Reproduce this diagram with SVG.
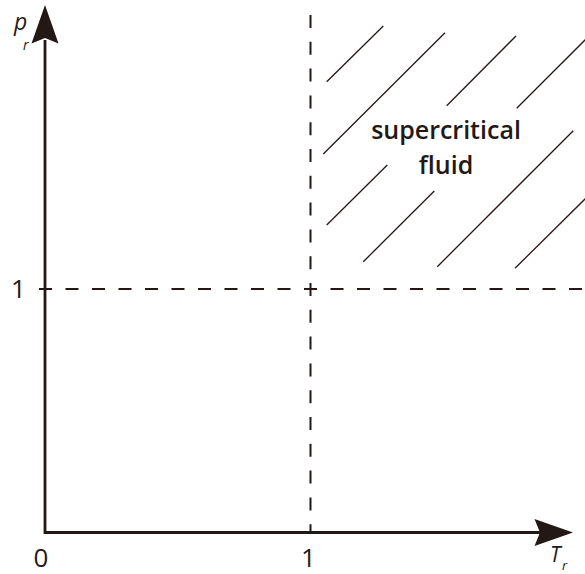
<svg xmlns="http://www.w3.org/2000/svg" width="585" height="574" viewBox="0 0 585 574">
<style>
.axis{stroke:#231815;stroke-width:2.8;fill:none}
.dash{stroke:#231815;stroke-width:2;fill:none}
.hatch{stroke:#231815;stroke-width:1.3;fill:none}
.lbl{font-family:"Open Sans","Liberation Sans",sans-serif;fill:#231815}
.it{font-family:"Open Sans","Liberation Sans",sans-serif;font-style:italic;fill:#231815}
.head{fill:#231815}
</style>
<rect width="585" height="574" fill="#ffffff"/>
<g id="dashed-lines">
<line class="dash" x1="310.5" y1="15" x2="310.5" y2="532" stroke-dasharray="13 13.8"/>
<line class="dash" x1="39" y1="289" x2="585" y2="289" stroke-dasharray="13 13.5"/>
</g>
<g id="hatching">
<line class="hatch" x1="326.7" y1="81.7" x2="383.3" y2="26"/>
<line class="hatch" x1="323.3" y1="154" x2="445" y2="32.7"/>
<line class="hatch" x1="446.7" y1="105.7" x2="516" y2="36"/>
<line class="hatch" x1="516.7" y1="108.3" x2="587" y2="38"/>
<line class="hatch" x1="326.7" y1="225" x2="387.3" y2="165"/>
<line class="hatch" x1="363.3" y1="261.7" x2="434.3" y2="191"/>
<line class="hatch" x1="437.3" y1="266.7" x2="573.3" y2="130.7"/>
<line class="hatch" x1="515" y1="268.3" x2="587" y2="197"/>
</g>
<g id="axes">
<polyline class="axis" points="45,40 45,532.5 540,532.5"/>
<path class="head" d="M45,5 L58.5,43.5 L45,38 L31.5,43.5 Z"/>
<path class="head" d="M573,532.5 L534.5,546 L540,532.5 L534.5,519 Z"/>
</g>
<g id="region-label">
<text class="lbl" font-size="25" font-weight="600" text-anchor="middle" x="446" y="138.5">supercritical</text>
<text class="lbl" font-size="25" font-weight="600" text-anchor="middle" x="446" y="173.5">fluid</text>
</g>
<g id="tick-labels">
<text class="lbl" font-size="26" text-anchor="middle" x="18.5" y="298">1</text>
<text class="lbl" font-size="26" text-anchor="middle" x="41" y="567">0</text>
<text class="lbl" font-size="26" text-anchor="middle" x="308.5" y="567">1</text>
</g>
<g id="axis-labels">
<text class="it" font-size="23" x="14" y="30">p</text>
<text class="it" font-size="14" x="23" y="50">r</text>
<text class="it" font-size="21" x="550" y="562">T</text>
<text class="it" font-size="13" x="562" y="570">r</text>
</g>
</svg>
